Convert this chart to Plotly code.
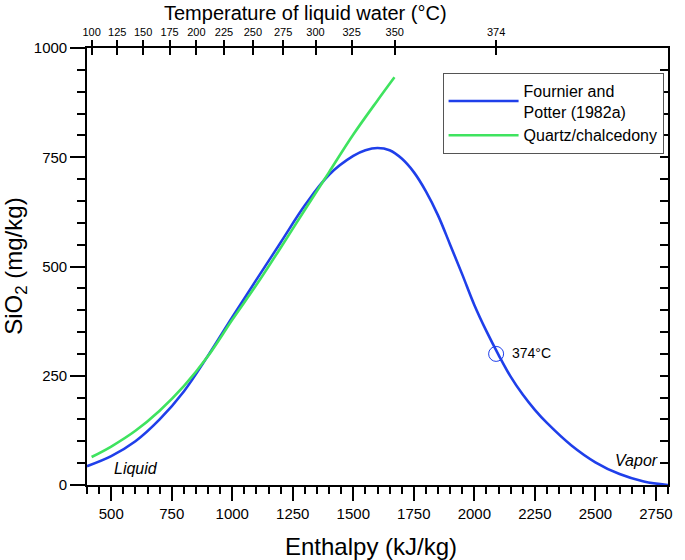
import plotly.graph_objects as go

# ---- data ----
fp_enthalpy = [400, 500, 600, 700, 800, 900, 1000, 1100, 1200, 1300, 1400, 1500, 1550, 1600,
               1650, 1700, 1750, 1800, 1850, 1900, 1950, 2000, 2050, 2100, 2150, 2200, 2250,
               2300, 2400, 2500, 2600, 2700, 2800]
fp_silica = [43, 66, 100, 150, 214, 296, 384, 470, 555, 640, 710, 753, 766, 771,
             766, 747, 716, 672, 617, 550, 482, 412, 352, 298, 248, 207, 172,
             142, 91, 52, 25, 8, 0]

qc_enthalpy = [419, 500, 600, 700, 800, 900, 1000, 1100, 1200, 1300, 1400, 1500, 1600, 1670]
qc_silica = [64, 88, 124, 170, 226, 295, 378, 458, 543, 630, 716, 802, 880, 933]

temp_labels = ["100", "125", "150", "175", "200", "225", "250", "275", "300", "325", "350", "374"]
temp_enthalpy = [419, 525, 632, 741, 852, 966, 1085, 1210, 1344, 1493, 1671, 2090]

critical_point_h = [2090]
critical_point_s = [300]

BLUE = "#1f3fea"
GREEN = "#3fe35f"
FONT = "Liberation Sans, Arial, sans-serif"

fig = go.Figure()
fig.add_trace(go.Scatter(x=fp_enthalpy, y=fp_silica, mode="lines",
                         name="Fournier and<br>Potter (1982a)",
                         line=dict(color=BLUE, width=2.6, shape="spline", smoothing=1)))
fig.add_trace(go.Scatter(x=qc_enthalpy, y=qc_silica, mode="lines",
                         name="Quartz/chalcedony",
                         line=dict(color=GREEN, width=2.6, shape="spline", smoothing=1)))
fig.add_trace(go.Scatter(x=critical_point_h, y=critical_point_s, mode="markers",
                         showlegend=False,
                         marker=dict(symbol="circle-open", size=15, color=BLUE,
                                     line=dict(width=1, color=BLUE))))
# helper traces to activate overlay axes
fig.add_trace(go.Scatter(x=[None], y=[None], xaxis="x2", yaxis="y", showlegend=False, hoverinfo="skip"))
fig.add_trace(go.Scatter(x=[None], y=[None], xaxis="x3", yaxis="y", showlegend=False, hoverinfo="skip"))
fig.add_trace(go.Scatter(x=[None], y=[None], xaxis="x", yaxis="y2", showlegend=False, hoverinfo="skip"))

axis_common = dict(showgrid=False, zeroline=False, showline=True, linecolor="black",
                   linewidth=1.6, tickcolor="black", tickwidth=1.5)

fig.update_layout(
    width=685, height=560,
    margin=dict(l=87, r=15, t=48, b=75),
    plot_bgcolor="white", paper_bgcolor="white",
    font=dict(family=FONT, color="black", size=15),
    xaxis=dict(range=[400, 2800], tick0=0, dtick=250, ticks="outside", ticklen=14,
               tickfont=dict(size=15),
               minor=dict(dtick=50, ticklen=7, ticks="outside", tickcolor="black", tickwidth=1.5),
               **axis_common),
    xaxis2=dict(range=[400, 2800], overlaying="x", side="top", tickmode="array",
                tickvals=temp_enthalpy, ticktext=temp_labels, ticks="outside", ticklen=6,
                tickfont=dict(size=11), **axis_common),
    xaxis3=dict(range=[400, 2800], overlaying="x", side="top", tickmode="array",
                tickvals=temp_enthalpy, ticks="inside", ticklen=7, showticklabels=False,
                **axis_common),
    yaxis=dict(range=[0, 1000], tick0=0, dtick=250, ticks="outside", ticklen=15,
               tickfont=dict(size=15),
               minor=dict(dtick=50, ticklen=8, ticks="outside", tickcolor="black", tickwidth=1.5),
               **axis_common),
    yaxis2=dict(range=[0, 1000], overlaying="y", side="right", tick0=0, dtick=50,
                ticks="inside", ticklen=8, showticklabels=False, **axis_common),
    legend=dict(x=0.612, y=0.9435, xanchor="left", yanchor="top",
                bordercolor="#555555", borderwidth=1, bgcolor="white",
                font=dict(size=16, family=FONT), itemwidth=70, tracegroupgap=0),
    showlegend=True,
)

annotations = [
    dict(text="Temperature of liquid water (°C)", xref="paper", yref="paper",
         x=0.376, y=1.080, xanchor="center", yanchor="middle", showarrow=False,
         font=dict(size=20)),
    dict(text="Enthalpy (kJ/kg)", xref="paper", yref="paper",
         x=0.489, y=-0.1396, xanchor="center", yanchor="middle", showarrow=False,
         font=dict(size=24)),
    dict(text="SiO<sub>2</sub> (mg/kg)", xref="paper", yref="paper",
         x=-0.1235, y=0.5, xanchor="center", yanchor="middle", showarrow=False,
         textangle=-90, font=dict(size=24)),
    dict(text="<i>Liquid</i>", xref="x", yref="y", x=504, y=37, xanchor="left",
         yanchor="middle", showarrow=False, font=dict(size=16)),
    dict(text="<i>Vapor</i>", xref="x", yref="y", x=2767, y=57, xanchor="right",
         yanchor="middle", showarrow=False, font=dict(size=16)),
    dict(text="374°C", xref="x", yref="y", x=2149, y=301, xanchor="left",
         yanchor="middle", showarrow=False, font=dict(size=14)),
]
fig.update_layout(annotations=annotations)

# remove the browser's default 8px page margin so the figure sits at the window origin
fig.write_html("out.html", config={"displayModeBar": False},
               post_script="document.body.style.margin='0';")
